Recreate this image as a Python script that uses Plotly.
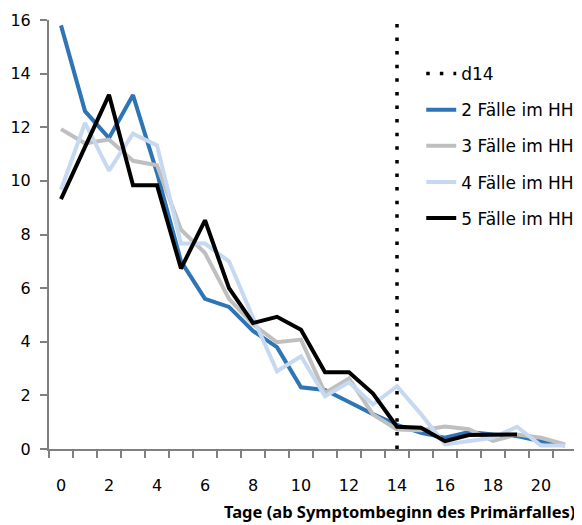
import plotly.graph_objects as go

days = list(range(22))
tick_days = list(range(0, 21, 2))
faelle2 = [15.8, 12.6, 11.6, 13.2, 10.3, 7.0, 5.6, 5.3, 4.4, 3.8, 2.3, 2.2, 1.75, 1.3, 0.9, 0.6, 0.42, 0.63, 0.54, 0.48, 0.29, 0.13]
faelle3 = [11.93, 11.4, 11.54, 10.75, 10.58, 8.18, 7.31, 5.6, 4.65, 3.98, 4.08, 2.09, 2.63, 1.29, 0.73, 0.7, 0.84, 0.74, 0.3, 0.54, 0.42, 0.17]
faelle4 = [9.67, 12.16, 10.38, 11.76, 11.32, 7.66, 7.66, 7.0, 4.9, 2.9, 3.46, 1.97, 2.49, 1.66, 2.34, 1.3, 0.17, 0.29, 0.42, 0.83, 0.13, 0.13]
faelle5 = [9.32, 11.3, 13.21, 9.84, 9.84, 6.73, 8.53, 6.0, 4.7, 4.93, 4.45, 2.86, 2.86, 2.07, 0.83, 0.79, 0.29, 0.52, 0.54, 0.54]
d14_x = [14, 14]
d14_y = [0, 16]

FONT = "DejaVu Sans"
AXIS = "#808080"
LW = 4

fig = go.Figure()
fig.add_trace(go.Scatter(x=d14_x, y=d14_y, mode="lines", name="d14",
                         line=dict(color="black", width=3.5, dash="3.5px,10.1px"),
                         legendgroup="a"))
fig.add_trace(go.Scatter(x=days, y=faelle2, mode="lines", name="2 Fälle im HH",
                         line=dict(color="#2e75b6", width=LW), legendgroup="b"))
fig.add_trace(go.Scatter(x=days, y=faelle3, mode="lines", name="3 Fälle im HH",
                         line=dict(color="#bfbfbf", width=LW), legendgroup="c"))
fig.add_trace(go.Scatter(x=days, y=faelle4, mode="lines", name="4 Fälle im HH",
                         line=dict(color="#c6d9f1", width=LW), legendgroup="d"))
fig.add_trace(go.Scatter(x=days[:len(faelle5)], y=faelle5, mode="lines", name="5 Fälle im HH",
                         line=dict(color="black", width=LW), legendgroup="e"))

fig.update_layout(
    width=574, height=517,
    margin=dict(l=41, r=2.5, t=12, b=75.5),
    plot_bgcolor="white", paper_bgcolor="white",
    font=dict(family=FONT, size=16, color="black"),
    showlegend=True,
    legend=dict(x=0.705, y=0.916, xanchor="left", yanchor="top",
                traceorder="grouped", tracegroupgap=11,
                font=dict(family=FONT, size=17), bgcolor="rgba(0,0,0,0)"),
    xaxis=dict(range=[-0.5, 21.5], tickmode="array", tickvals=tick_days,
               ticktext=[str(d) for d in tick_days], ticks="", ticklabelstandoff=21,
               showline=True, linecolor=AXIS, linewidth=2, showgrid=False, zeroline=False,
               minor=dict(tick0=-0.5, dtick=1, ticks="outside", ticklen=7,
                          tickcolor=AXIS, tickwidth=2, showgrid=False),
               tickfont=dict(size=16)),
    yaxis=dict(range=[0, 16], tickmode="linear", tick0=0, dtick=2,
               ticks="outside", ticklen=7, tickcolor=AXIS, tickwidth=2,
               showline=True, linecolor=AXIS, linewidth=2, showgrid=False, zeroline=False,
               ticklabelstandoff=6, tickfont=dict(size=16)),
    annotations=[dict(text="<b>Tage (ab Symptombeginn des Primärfalles)</b>",
                      xref="paper", yref="paper", x=1.0, y=-0.145,
                      xanchor="right", yanchor="middle", showarrow=False,
                      font=dict(family="Noto Sans", size=16.5))],
)

fig.write_html("out.html")
